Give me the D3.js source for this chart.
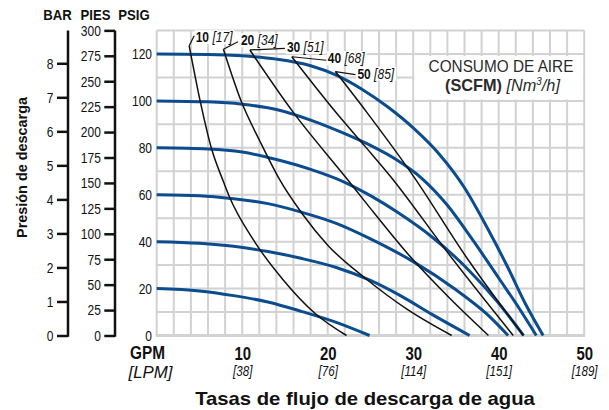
<!DOCTYPE html>
<html>
<head>
<meta charset="utf-8">
<script src="https://cdn.jsdelivr.net/npm/d3@7"></script>
<style>
  html, body { margin: 0; padding: 0; background: #fff; }
  svg { display: block; }
  text { font-family: "Liberation Sans", Arial, sans-serif; fill: #111; }
</style>
</head>
<body>
<svg id="chart" width="609" height="410"></svg>
<script>
// ---------------- DATA ----------------
const gpmTicks = [10, 20, 30, 40, 50];
const lpmTicks = ["[38]", "[76]", "[114]", "[151]", "[189]"];
const psigTicks = [0, 20, 40, 60, 80, 100, 120];
const piesTicks = [0, 25, 50, 75, 100, 125, 150, 175, 200, 225, 250, 275, 300];
const barTicks = [0, 1, 2, 3, 4, 5, 6, 7, 8];

// Blue curves: discharge pressure (psig) vs flow (gpm) at given air inlet pressure
const pressureLevels = [120, 100, 80, 60, 40, 20];
const blue120 = [[0,120],[6,119.8],[10,119.2],[14,117.8],[18,115],[21,111],[24,105],[27,97.5],[30,88.5],[33,77.5],[36,63],[38.5,47],[41,29.5],[43.2,13],[45.2,0]];
const blue100 = [[0,100],[6,99.6],[10,98.6],[14,96.3],[18,91.8],[22,86],[25,81],[28,75],[31,67],[34,55.5],[37,40.5],[40,24.5],[42.5,11],[44.4,0]];
const blue80  = [[0,80],[6,79.5],[10,78.2],[14,75],[18,70.8],[22,65.3],[25,59.6],[28.3,52.2],[32.2,42],[36.1,29.3],[40,13.7],[42.9,0]];
const blue60  = [[0,60],[5,59.6],[9,58.3],[13,56.2],[17,52.5],[21,47.8],[25,41.2],[30,31.5],[35,19.5],[38.5,9.5],[41.1,0]];
const blue40  = [[0,40],[5,39.3],[9,38],[13,35.8],[17,32.8],[21,29],[25,23.5],[28.5,17],[32.2,9],[36.6,0]];
const blue20  = [[0,20],[5,19],[9,17],[13,14.3],[17,10.2],[21,5.6],[24.9,0]];
const blueSeries = [blue120, blue100, blue80, blue60, blue40, blue20];

// Black curves: constant air consumption (SCFM)
const scfmLabels = ["10", "20", "30", "40", "50"];
const nm3Labels = ["[17]", "[34]", "[51]", "[68]", "[85]"];
const scfm10 = [[3.8,123.5],[5.1,99.7],[6.4,79.8],[7.8,65.6],[8.4,60],[11.5,39.7],[14.8,23.7],[18.5,9.5],[22.2,0]];
const scfm20 = [[7.8,122],[9.9,99.7],[12.1,82.6],[14.4,66.3],[17,52],[20,38.5],[24.4,24.4],[29.4,10.9],[34.5,0]];
const scfm30 = [[10.9,121.7],[16,95],[22.2,67],[24.6,56],[29.8,33],[34.1,16.5],[38.8,0]];
const scfm40 = [[15.8,118.8],[21.1,94.5],[24.4,80.5],[27.3,68],[34.1,35],[41.7,0]];
const scfm50 = [[20.9,112.5],[24.6,95],[30.2,67],[36.1,34],[42.9,0]];
const scfmSeries = [scfm10, scfm20, scfm30, scfm40, scfm50];

// ---------------- LAYOUT ----------------
const BLUE = "#0b4c8e";
const GRID = "#d2d2d2";
const svg = d3.select("#chart");

// horizontally condense text (reference uses a condensed typeface)
function condense(sel, k) {
  sel.each(function () {
    const t = d3.select(this);
    const ax = +t.attr("x") || 0, ay = +t.attr("y") || 0;
    t.attr("transform", `translate(${ax},${ay}) scale(${k},1) translate(${-ax},${-ay})`);
  });
}
function fitWidth(t, target) {
  const w = t.node().getComputedTextLength();
  condense(t, target / w);
}

const x = d3.scaleLinear().domain([0, 50]).range([156.7, 584.2]);
const y = d3.scaleLinear().domain([0, 130]).range([335.5, 30.5]);
const PSI_PER_FT = 1 / 2.3067;
const PSI_PER_BAR = 14.5038;
const ft = d3.scaleLinear().domain([0, 130 / PSI_PER_FT]).range([y(0), y(130)]);
const bar = d3.scaleLinear().domain([0, 130 / PSI_PER_BAR]).range([y(0), y(130)]);

// grid
const grid = svg.append("g").attr("stroke", GRID).attr("stroke-width", 2);
grid.selectAll("line.v").data(d3.range(0, 51, 2)).join("line")
  .attr("x1", d => x(d)).attr("x2", d => x(d)).attr("y1", y(130)).attr("y2", y(0));
grid.selectAll("line.h").data(d3.range(0, 131, 10)).join("line")
  .attr("x1", x(0)).attr("x2", x(50)).attr("y1", d => y(d)).attr("y2", d => y(d));
svg.append("line").attr("x1", x(0) - 1).attr("x2", x(50) + 1).attr("y1", y(0)).attr("y2", y(0))
  .attr("stroke", GRID).attr("stroke-width", 3);

// legend box
svg.append("rect").attr("x", 414.5).attr("y", 56).attr("width", 168.5).attr("height", 43.5).attr("fill", "#fff");
const lg = svg.append("text").attr("x", 501).attr("y", 72).attr("text-anchor", "middle")
  .style("font-size", "16.5px").style("fill", "#2b2b2b").text("CONSUMO DE AIRE");
fitWidth(lg, 145);
const lg2 = svg.append("text").attr("x", 502.5).attr("y", 91.5).attr("text-anchor", "middle")
  .style("font-size", "16.5px").style("fill", "#2b2b2b");
lg2.append("tspan").style("font-weight", "bold").text("(SCFM)");
lg2.append("tspan").style("font-style", "italic").text(" [Nm");
lg2.append("tspan").style("font-style", "italic").style("font-size", "10px").attr("dy", -6).text("3");
lg2.append("tspan").style("font-style", "italic").attr("dy", 6).text("/h]");
fitWidth(lg2, 115);

// curve label offsets (pixels from curve start): leader end and text position
const labelLayout = [
  {lx: 5, ly: -10, tx: 6.5, ty: -3.5},
  {lx: 14.5, ly: -7.5, tx: 17.5, ty: -4},
  {lx: 35, ly: -1.5, tx: 37, ty: 2},
  {lx: 34.5, ly: 3.5, tx: 36, ty: 6.5},
  {lx: 20, ly: 3, tx: 22, ty: 7}
];
const LABEL_K = 0.86;
const labelsG = svg.append("g");
const leadersG = svg.append("g");

const line = d3.line().x(d => x(d[0])).y(d => y(d[1])).curve(d3.curveMonotoneX);

scfmSeries.forEach((s, i) => {
  const sx = x(s[0][0]), sy = y(s[0][1]);
  const L = labelLayout[i];
  const tx = sx + L.tx, ty = sy + L.ty;
  const t = labelsG.append("text").attr("x", tx).attr("y", ty).style("font-size", "14px");
  t.append("tspan").style("font-weight", "bold").text(scfmLabels[i]);
  t.append("tspan").style("font-style", "italic").text(" " + nm3Labels[i]);
  const bb = t.node().getBBox();
  condense(t, LABEL_K);
  labelsG.insert("rect", "text")
    .attr("x", tx + (bb.x - tx) * LABEL_K - 1).attr("y", bb.y + 1)
    .attr("width", bb.width * LABEL_K + 2).attr("height", bb.height - 2)
    .attr("fill", "#fff");
  leadersG.append("line").attr("x1", sx).attr("y1", sy).attr("x2", sx + L.lx).attr("y2", sy + L.ly)
    .attr("stroke", "#111").attr("stroke-width", 1.2);
});

// blue curves
svg.append("g").selectAll("path").data(blueSeries).join("path")
  .attr("d", line).attr("fill", "none").attr("stroke", BLUE).attr("stroke-width", 3);
// black curves
svg.append("g").selectAll("path").data(scfmSeries).join("path")
  .attr("d", line).attr("fill", "none").attr("stroke", "#111").attr("stroke-width", 1.5);
leadersG.raise();

// PSIG axis (labels only)
const psigAxis = svg.append("g").attr("transform", `translate(${x(0)},0)`)
  .call(d3.axisLeft(y).tickValues(psigTicks).tickSize(0).tickPadding(4.7));
psigAxis.select(".domain").remove();
psigAxis.selectAll("text").style("font-size", "15px").attr("font-family", null);
condense(psigAxis.selectAll("text"), 0.8);

// PIES axis
const piesAxis = svg.append("g").attr("transform", "translate(115,0)")
  .call(d3.axisLeft(ft).tickValues(piesTicks).tickSize(10.7).tickSizeOuter(0).tickPadding(3.5));
piesAxis.selectAll("text").style("font-size", "15px").attr("font-family", null);
condense(piesAxis.selectAll("text"), 0.8);

// BAR axis
const barAxis = svg.append("g").attr("transform", "translate(68,0)")
  .call(d3.axisLeft(bar).tickValues(barTicks).tickSize(11).tickSizeOuter(0).tickPadding(3.5));
barAxis.selectAll("text").style("font-size", "15px").attr("font-family", null);
condense(barAxis.selectAll("text"), 0.8);

[piesAxis, barAxis].forEach(a => {
  a.selectAll(".domain, .tick line").attr("stroke", "#111").attr("stroke-width", 2.5);
  a.select(".domain").attr("d", `M0,${y(0) + 1.2}V${y(130)}`);
});

// headers
[["BAR", 57.5], ["PIES", 95.5], ["PSIG", 134]].forEach(h => {
  const t = svg.append("text").attr("x", h[1]).attr("y", 20.5).attr("text-anchor", "middle")
    .style("font-size", "14px").style("font-weight", "bold").text(h[0]);
  condense(t, 0.94);
});

// x axis labels
const xa = svg.append("g").attr("transform", "translate(0,359.5)")
  .call(d3.axisBottom(x).tickValues(gpmTicks).tickSize(0).tickPadding(0).tickFormat(d3.format("d")));
xa.select(".domain").remove();
xa.selectAll("text").attr("dy", 0).attr("y", 0).attr("font-family", null)
  .style("font-size", "18px").style("font-weight", "bold");
condense(xa.selectAll("text"), 0.83);
const lpm = xa.selectAll(".tick").append("text").attr("class", "lpm").attr("y", 17).attr("text-anchor", "middle")
  .style("font-size", "14.5px").style("font-style", "italic").style("fill", "#111")
  .text((d, i) => lpmTicks[i]);
condense(lpm, 0.8);

const gpmT = svg.append("text").attr("x", 147.5).attr("y", 359.5).attr("text-anchor", "middle")
  .style("font-size", "18px").style("font-weight", "bold").text("GPM");
fitWidth(gpmT, 35);
const lpmT = svg.append("text").attr("x", 150.5).attr("y", 378).attr("text-anchor", "middle")
  .style("font-size", "16px").style("font-style", "italic").text("[LPM]");
fitWidth(lpmT, 44);

// titles
const xt = svg.append("text").attr("x", 365).attr("y", 405).attr("text-anchor", "middle")
  .style("font-size", "18px").style("font-weight", "bold").text("Tasas de flujo de descarga de agua");
fitWidth(xt, 340);
const yt = svg.append("text").attr("text-anchor", "middle")
  .style("font-size", "15.5px").style("font-weight", "bold").text("Presión de descarga");
const ytk = 141 / yt.node().getComputedTextLength();
yt.attr("transform", `translate(26.5,167.5) rotate(-90) scale(${ytk},1)`);
</script>
</body>
</html>
